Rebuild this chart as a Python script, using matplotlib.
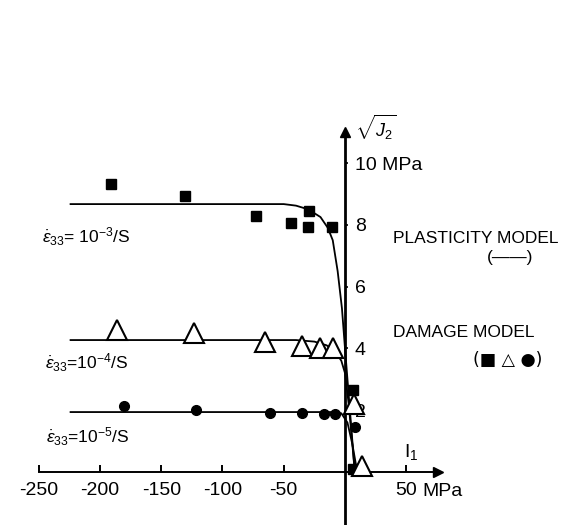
import matplotlib
matplotlib.use('Agg')
import matplotlib.pyplot as plt

plt.rcParams['font.family'] = ['Liberation Sans', 'DejaVu Sans']
plt.rcParams['mathtext.fontset'] = 'custom'
plt.rcParams['mathtext.rm'] = 'Liberation Sans'
plt.rcParams['mathtext.it'] = 'Liberation Sans:italic'

# damage model points, I1 (MPa) vs sqrt(J2) (MPa)
sq_x = [-191, -131, -73, -44, -29, -30, -11, 6.5, 6.5]
sq_y = [9.32, 8.93, 8.28, 8.06, 8.45, 7.93, 7.93, 2.65, 0.1]
tri_x = [-186, -123, -65, -35, -20, -10, 7, 14]
tri_y = [4.6, 4.5, 4.2, 4.08, 4.0, 4.0, 2.2, 0.2]
circ_x = [-180, -122, -61, -35, -17, -8, 8]
circ_y = [2.14, 2.0, 1.9, 1.9, 1.88, 1.88, 1.45]

# plasticity model curves
p3_x = [-224, -50, -40, -30, -20, -14, -10, -6, -2.5, 0, 3, 6, 8]
p3_y = [8.67, 8.67, 8.62, 8.5, 8.25, 7.9, 7.5, 6.5, 5.3, 4.0, 2.5, 1.0, 0]
p4_x = [-224, -40, -25, -15, -8, -3, 0, 3, 6, 8]
p4_y = [4.27, 4.27, 4.22, 4.1, 3.9, 3.6, 3.2, 2.2, 0.9, 0]
p5_x = [-224, -10, -3, 2, 6, 10]
p5_y = [1.94, 1.94, 1.9, 1.6, 0.9, 0]

xticks = [-250, -200, -150, -100, -50, 50]
xlabels = ['-250', '-200', '-150', '-100', '-50', '50']
yticks = [2, 4, 6, 8, 10]
ylabels = ['2', '4', '6', '8', '10 MPa']

fig = plt.figure(figsize=(5.67, 5.25), dpi=100)
ax = fig.add_axes([0, 0, 1, 1])
ax.set_xlim(-281.6, 181.2)
ax.set_ylim(-1.715, 15.275)

for s in ['top', 'left']:
    ax.spines[s].set_visible(False)
ax.spines['bottom'].set_position(('data', 0))
ax.spines['bottom'].set_bounds(-250, 76)
ax.spines['bottom'].set_linewidth(1.4)
ax.spines['right'].set_position(('data', 0))
ax.spines['right'].set_bounds(-1.8, 11.0)
ax.spines['right'].set_linewidth(2.0)
ax.yaxis.tick_right()

ax.set_xticks(xticks)
ax.set_xticklabels(xlabels)
ax.set_yticks(yticks)
ax.set_yticklabels(ylabels)
ax.tick_params(axis='x', direction='in', length=5, width=1.4, pad=7, labelsize=14)
ax.tick_params(axis='y', direction='out', length=2, width=1.2, pad=5, labelsize=14)

# axis arrow heads
ax.plot([76], [0], marker='>', color='black', markersize=7, clip_on=False)
ax.plot([0], [11.0], marker='^', color='black', markersize=7, clip_on=False)

ax.plot(p3_x, p3_y, color='black', lw=1.3)
ax.plot(p4_x, p4_y, color='black', lw=1.3)
ax.plot(p5_x, p5_y, color='black', lw=1.3)

ax.plot(sq_x, sq_y, 's', color='black', markersize=6.5, zorder=3)
ax.plot(tri_x, tri_y, '^', markerfacecolor='white', markeredgecolor='black',
        markersize=14, markeredgewidth=1.5, zorder=3)
ax.plot(circ_x, circ_y, 'o', color='black', markersize=7, zorder=3)

ax.text(-211, 7.6, r'$\dot{\varepsilon}_{33}$= 10$^{-3}$/S', fontsize=12.5,
        ha='center', va='center')
ax.text(-211, 3.53, r'$\dot{\varepsilon}_{33}$=10$^{-4}$/S', fontsize=12.5,
        ha='center', va='center')
ax.text(-210, 1.13, r'$\dot{\varepsilon}_{33}$=10$^{-5}$/S', fontsize=12.5,
        ha='center', va='center')

ax.text(8, 11.15, r'$\sqrt{J_2}$', fontsize=13, ha='left', va='center')
ax.text(54, 0.65, r'I$_1$', fontsize=14, ha='center', va='center')
ax.text(63, -0.62, 'MPa', fontsize=14, ha='left', va='center')

ax.text(39, 7.57, 'PLASTICITY MODEL', fontsize=12.5, ha='left', va='center')
ax.text(135, 6.93, '(——)', fontsize=12.5, ha='center', va='center')
ax.text(39, 4.5, 'DAMAGE MODEL', fontsize=12.5, ha='left', va='center')
ax.text(133, 3.62, '(■ △ ●)', fontsize=12.5, ha='center', va='center',
        family=['DejaVu Sans'])

fig.savefig('out.png', dpi=100)
